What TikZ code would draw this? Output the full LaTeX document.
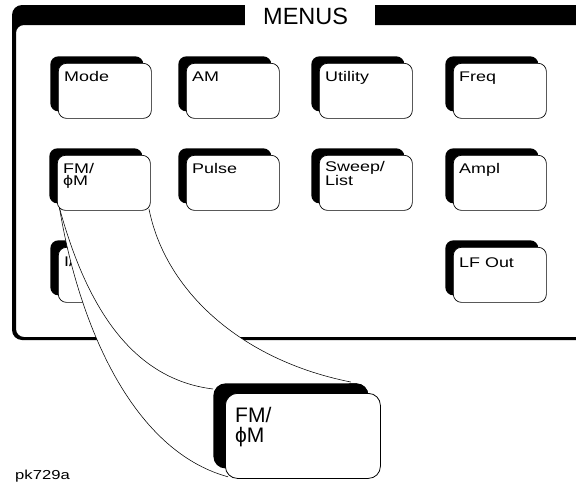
\documentclass[tikz,border=0pt]{standalone}
\usepackage{fontspec}
\setmainfont{Liberation Sans}
\newfontfamily\widesans[FakeStretch=1.28]{Liberation Sans}
\usetikzlibrary{shadows,calc}
\begin{document}
\begin{tikzpicture}[x=1pt,y=-1pt,
  btn/.style={draw=black, line width=0.7pt, fill=white, rounded corners=8pt,
    minimum width=93pt, minimum height=55pt, anchor=north west, inner sep=0pt,
    general shadow={fill=black, rounded corners=9pt, shadow xshift=-8pt, shadow yshift=7pt}},
  bigbtn/.style={draw=black, line width=0.8pt, fill=white, rounded corners=12pt,
    minimum width=155pt, minimum height=85pt, anchor=north west, inner sep=0pt,
    general shadow={fill=black, rounded corners=13pt, shadow xshift=-12pt, shadow yshift=10pt}},
  lbl/.style={font=\widesans\fontsize{14}{12.5}\selectfont, align=left, anchor=base west, inner sep=0pt},
  biglbl/.style={font=\fontsize{21}{20}\selectfont, align=left, anchor=base west, inner sep=0pt},
  flyline/.style={draw=black, line width=0.55pt}]
\useasboundingbox (0,0) rectangle (576,482);
\clip (0,0) rectangle (576,482);
% panel frame
\fill[black, even odd rule] [rounded corners=10pt] (600,5) -- (12,5) -- (12,340) -- (600,340) -- cycle
  [rounded corners=8pt] (600,25) -- (16,25) -- (16,337) -- (600,337) -- cycle;
\fill[white] (245,3) rectangle (375,25.5);
\node[font=\fontsize{23.5}{24}\selectfont, anchor=base west, inner sep=0pt] (menus) at (263,24) {MENUS};
% partly hidden button
\node[btn] (iq) at (58,247) {};
\node[lbl] (tiq) at ($(iq.north west)+(6,19)$) {I/};
% flyout
\node[bigbtn, draw=none, fill=none, general shadow={}] (bigpos) at (225,393) {};
\coordinate (fa) at (59.5,208);
\coordinate (fb) at (149,209);
\coordinate (e3) at ($(bigpos.south west)+(3,-2)$);
\coordinate (e2) at ($(bigpos.north west)+(-12,-4)$);
\coordinate (e1) at ($(bigpos.north east)+(-30,-11)$);
\fill[white] (fa) .. controls (78,320) and (130,450) .. (e3) -- (e1)
  .. controls (240,360) and (165,290) .. (fb) -- cycle;
\draw[flyline] (fa) .. controls (78,320) and (130,450) .. (e3);
\draw[flyline] (fa) .. controls (90,320) and (140,380) .. (e2);
\draw[flyline] (fb) .. controls (165,290) and (240,360) .. (e1);
% buttons
\node[btn] (mode) at (58,63) {};
\node[btn] (am) at (186,63) {};
\node[btn] (util) at (319,63) {};
\node[btn] (freq) at (453,63) {};
\node[btn] (fm) at (57,155) {};
\node[btn] (pulse) at (186,155) {};
\node[btn] (sweep) at (319,155) {};
\node[btn] (ampl) at (453,155) {};
\node[btn] (lfout) at (453,247) {};
\node[lbl] (tmode) at ($(mode.north west)+(6,18)$) {Mode};
\node[lbl] (tam) at ($(am.north west)+(6,18)$) {AM};
\node[lbl] (tutil) at ($(util.north west)+(6,18)$) {Utility};
\node[lbl] (tfreq) at ($(freq.north west)+(6,18)$) {Freq};
\node[lbl] (tfm) at ($(fm.north west)+(6,30.5)$) {FM/\\ϕM};
\node[lbl] (tpulse) at ($(pulse.north west)+(6,18)$) {Pulse};
\node[lbl] (tsweep) at ($(sweep.north west)+(6,30.5)$) {Sweep/\\List};
\node[lbl] (tampl) at ($(ampl.north west)+(6,18)$) {Ampl};
\node[lbl] (tlfout) at ($(lfout.north west)+(6,20)$) {LF Out};
% enlarged button
\node[bigbtn] (bigfm) at (225,393) {};
\node[biglbl] (tbig) at ($(bigfm.north west)+(10,49)$) {FM/\\ϕM};
\node[font=\widesans\fontsize{13}{13}\selectfont, anchor=base west, inner sep=0pt] (pk) at (15,479) {pk729a};
\end{tikzpicture}
\end{document}
